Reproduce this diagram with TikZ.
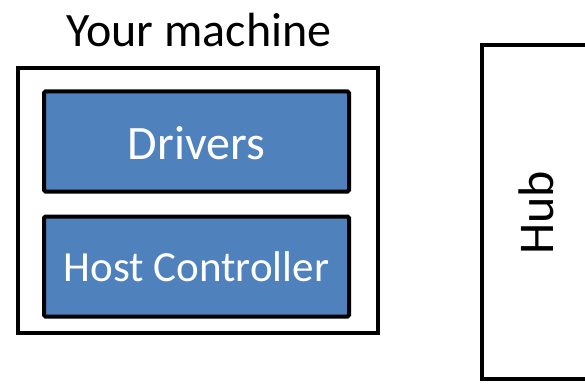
\documentclass[tikz,border=0pt]{standalone}
\usepackage{fontspec}
\setmainfont{Carlito}
\definecolor{layerblue}{HTML}{4F81BD}

\begin{document}
\begin{tikzpicture}[x=1pt,y=-1pt,
    frame/.style={draw=black, line width=4pt, inner sep=0pt},
    layer/.style={frame, fill=layerblue, text=white, rounded corners=1.5pt,
        minimum width=305pt, minimum height=100pt},
    bigtext/.style={font=\fontsize{48}{56}\selectfont}]
        \useasboundingbox (0,0) rectangle (585,385);
        % ==== MACHINE ====
        \node[frame, minimum width=360pt, minimum height=265pt] (machine) at (198,200.5) {};
        \node[bigtext] (title) at (199,30) {Your machine};
        % ==== LAYERS ====
        \node[layer, bigtext, text height=37pt] (drivers) at (196.5,141.5) {Drivers};
        \node[layer, font=\fontsize{43}{50}\selectfont] (host) at (196.5,266.5) {Host Controller};
        % ==== HUB ====
        \node[frame, minimum width=140pt, minimum height=334pt] (hub) at (552,212) {};
        \node[font=\fontsize{50}{58}\selectfont, rotate=90] (hublabel) at (536,213) {Hub};
\end{tikzpicture}
\end{document}
